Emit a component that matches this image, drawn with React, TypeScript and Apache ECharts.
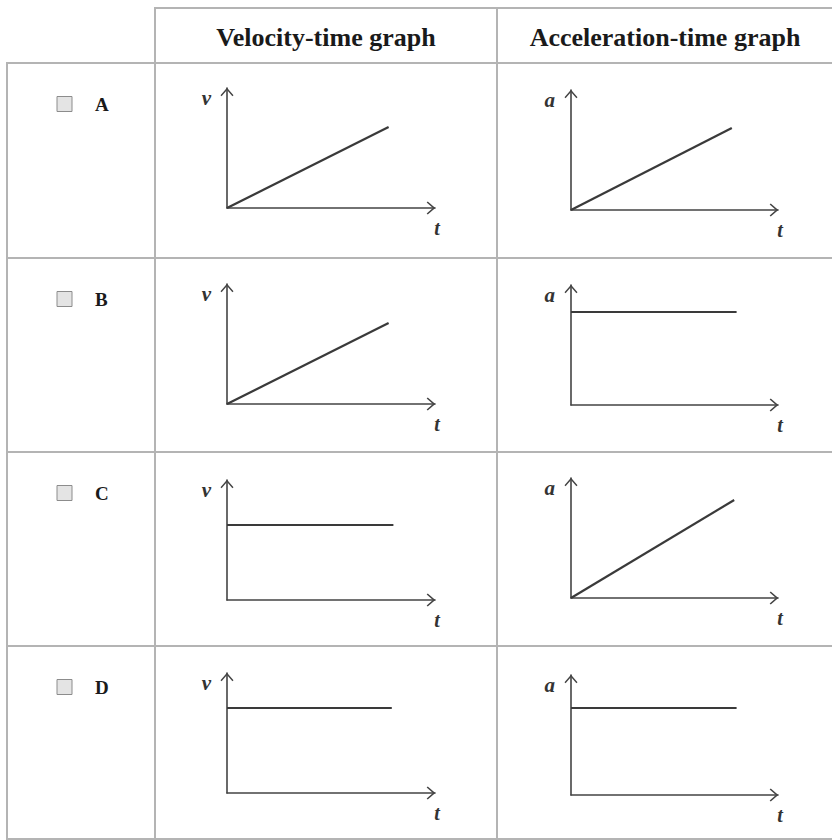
import React, { useEffect, useRef } from "react";
import * as echarts from "echarts";

// ---- data ----
const options = ["A", "B", "C", "D"];
const headers = ["Velocity-time graph", "Acceleration-time graph"];
const velName = "v";
const accName = "a";
const timeName = "t";

// velocity-time lines [t, v]
const velA = [[0, 0], [10.1, 8.1]];
const velB = [[0, 0], [10.1, 8.1]];
const velC = [[0, 7.5], [10.4, 7.5]];
const velD = [[0, 8.5], [10.3, 8.5]];
// acceleration-time lines [t, a]
const accA = [[0, 0], [10.1, 8.2]];
const accB = [[0, 9.3], [10.4, 9.3]];
const accC = [[0, 0], [10.25, 9.8]];
const accD = [[0, 8.7], [10.4, 8.7]];

const velLines = [velA, velB, velC, velD];
const accLines = [accA, accB, accC, accD];

// ---- layout ----
const X_MAX = 13;
const Y_MAX = 12;
const velTops = [88, 284, 480, 673];
const accTops = [90, 285, 478, 675];
const rowTops = [63, 258, 452, 646];
const GRID_H = 120;

const SERIF = "'Liberation Serif', 'DejaVu Serif', serif";
const TABLE = "#b4b4b4";
const INK = "#3a3a3a";

const ARROW = "path://M0,7 L6,0 L12,7 L11,8 L6,2.2 L1,8 Z";

export default function App() {
  const ref = useRef<HTMLDivElement>(null);

  useEffect(() => {
    if (!ref.current) return;
    const chart = echarts.init(ref.current, undefined, { renderer: "svg" });

    const grids: any[] = [];
    const xAxes: any[] = [];
    const yAxes: any[] = [];
    const series: any[] = [];

    const addGraph = (left: number, top: number, width: number, yName: string, data: number[][]) => {
      const idx = grids.length;
      grids.push({ left, top, width, height: GRID_H, containLabel: false });
      const axisLine = {
        show: true,
        onZero: false,
        symbol: ["none", ARROW],
        symbolSize: [13, 9],
        symbolOffset: [0, -4],
        lineStyle: { color: "#444", width: 1.6 },
      };
      xAxes.push({
        type: "value",
        gridIndex: idx,
        min: 0,
        max: X_MAX,
        axisLine,
        axisTick: { show: false },
        axisLabel: { show: false },
        splitLine: { show: false },
        name: timeName,
        nameLocation: "end",
        nameGap: 2,
        nameTextStyle: {
          fontFamily: SERIF,
          fontStyle: "italic",
          fontWeight: "bold",
          fontSize: 20,
          color: "#333",
          align: "center",
          verticalAlign: "top",
          padding: [10, 0, 0, 0],
        },
      });
      yAxes.push({
        type: "value",
        gridIndex: idx,
        min: 0,
        max: Y_MAX,
        axisLine,
        axisTick: { show: false },
        axisLabel: { show: false },
        splitLine: { show: false },
        name: yName,
        nameLocation: "end",
        nameGap: -10,
        nameTextStyle: {
          fontFamily: SERIF,
          fontStyle: "italic",
          fontWeight: "bold",
          fontSize: 21,
          color: "#333",
          align: "right",
          verticalAlign: "middle",
          padding: [0, 16, 0, 0],
        },
      });
      series.push({
        type: "line",
        xAxisIndex: idx,
        yAxisIndex: idx,
        data,
        symbol: "none",
        silent: true,
        lineStyle: { color: INK, width: 2.2 },
      });
    };

    options.forEach((_, i) => {
      addGraph(227, velTops[i], 208, velName, velLines[i]);
      addGraph(571, accTops[i], 207, accName, accLines[i]);
    });

    const graphic: any[] = [];
    const line = (x1: number, y1: number, x2: number, y2: number) =>
      graphic.push({
        type: "line",
        silent: true,
        shape: { x1, y1, x2, y2 },
        style: { stroke: TABLE, lineWidth: 2 },
      });

    // table frame
    line(155, 8, 832, 8);
    line(7, 63, 832, 63);
    rowTops.slice(1).forEach((y) => line(7, y, 832, y));
    line(7, 839, 832, 839);
    line(7, 62, 7, 840);
    line(155, 7, 155, 840);
    line(497, 7, 497, 840);

    // headers
    [326, 665].forEach((cx, i) =>
      graphic.push({
        type: "text",
        silent: true,
        x: cx,
        y: 37,
        style: {
          text: headers[i],
          font: `bold 26px ${SERIF}`,
          fill: "#1a1a1a",
          align: "center",
          verticalAlign: "middle",
        },
      })
    );

    // option labels with checkboxes
    options.forEach((opt, i) => {
      const cy = rowTops[i] + 41;
      graphic.push({
        type: "rect",
        silent: true,
        shape: { x: 57, y: cy - 7.5, width: 15, height: 15 },
        style: { fill: "#e4e4e4", stroke: "#8c8c8c", lineWidth: 1 },
      });
      graphic.push({
        type: "text",
        silent: true,
        x: 95,
        y: cy,
        style: {
          text: opt,
          font: `bold 19px ${SERIF}`,
          fill: "#1a1a1a",
          align: "left",
          verticalAlign: "middle",
        },
      });
    });

    chart.setOption({
      animation: false,
      backgroundColor: "#ffffff",
      grid: grids,
      xAxis: xAxes,
      yAxis: yAxes,
      series,
      graphic,
    });

    return () => chart.dispose();
  }, []);

  return (
    <div
      ref={ref}
      style={{ position: "fixed", left: 0, top: 0, width: 832, height: 840 }}
    />
  );
}
